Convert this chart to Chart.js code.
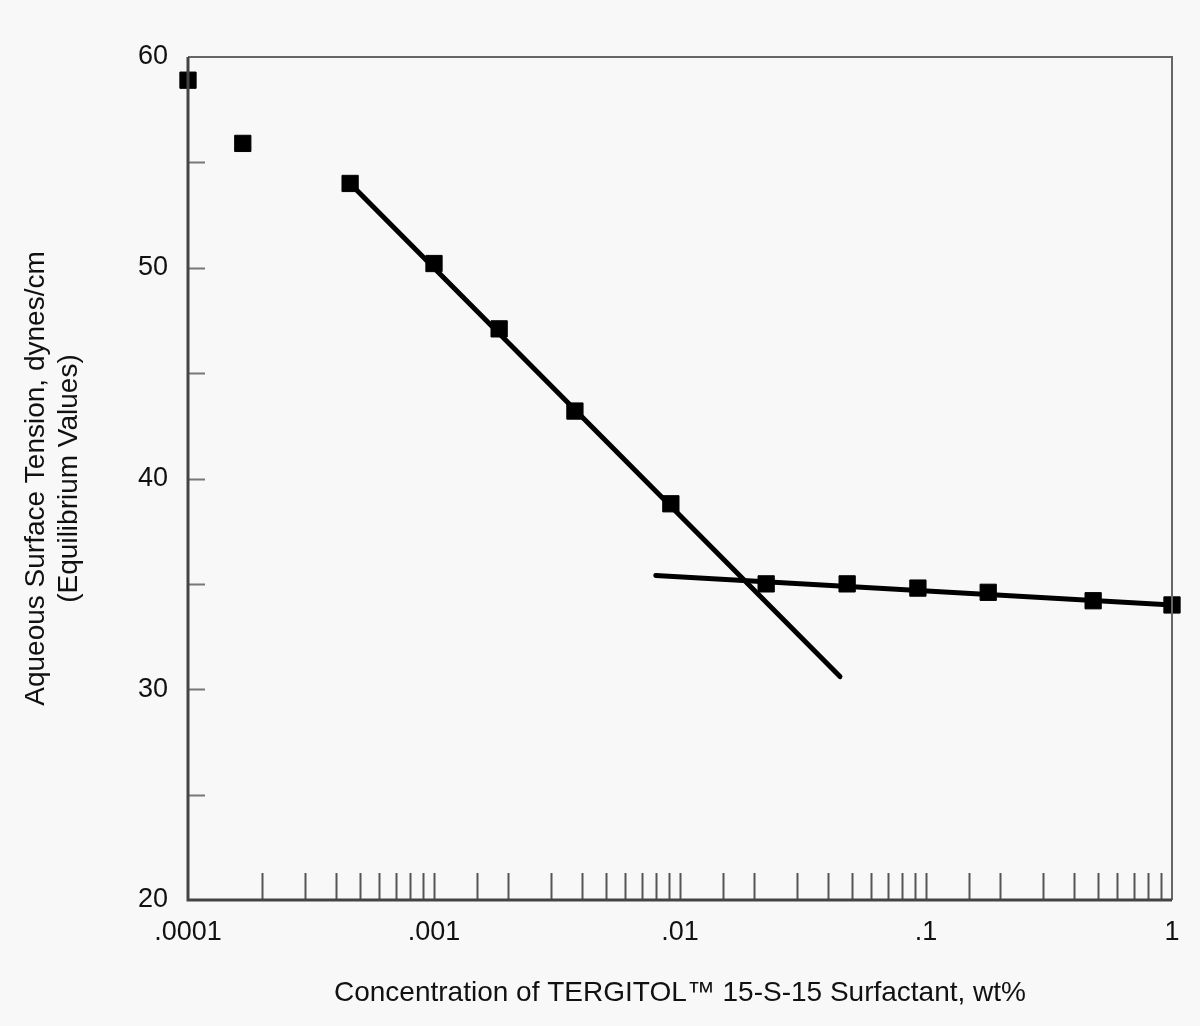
<!DOCTYPE html>
<html lang="en">
<head>
    <meta charset="UTF-8">
    <title>Surface Tension vs Concentration</title>
    <script src="https://cdn.jsdelivr.net/npm/chart.js"></script>
    <style>
        body {
            margin: 0;
            padding: 0;
            background-color: #f8f8f8;
        }

        .chart-box {
            width: 1200px;
            height: 1026px;
            position: relative;
        }
    </style>
</head>
<body>

    <div class="chart-box">
        <canvas id="tensionChart"></canvas>
    </div>

    <script>
        // measured points (concentration wt%, surface tension dynes/cm)
        var concentration = [0.0001, 0.000167, 0.000456, 0.001, 0.00184, 0.00374, 0.00918, 0.0224, 0.0478, 0.0927, 0.179, 0.478, 1];
        var tension = [58.9, 55.9, 54.0, 50.2, 47.1, 43.2, 38.8, 35.0, 35.0, 34.8, 34.6, 34.2, 34.0];

        // the two straight fit lines (end points)
        var steepX = [0.000456, 0.0447];
        var steepY = [54.0, 30.6];
        var flatX = [0.00797, 1];
        var flatY = [35.4, 34.0];

        // axis labels
        var xTickLabels = { '-4': '.0001', '-3': '.001', '-2': '.01', '-1': '.1', '0': '1' };
        var yTickLabels = [20, 30, 40, 50, 60];

        var xTitle = 'Concentration of TERGITOL\u2122 15-S-15 Surfactant, wt%';
        var yTitle = ['Aqueous Surface Tension, dynes/cm', '(Equilibrium Values)'];

        function toPoints(xs, ys) {
            return xs.map(function (x, i) { return { x: x, y: ys[i] }; });
        }

        var fontFamily = "'Liberation Sans', Arial, sans-serif";

        // inward tick marks + frame
        var framePlugin = {
            id: 'frame',
            afterDatasetsDraw: function (chart) {
                var ctx = chart.ctx;
                var area = chart.chartArea;
                var xs = chart.scales.x;
                var ys = chart.scales.y;
                ctx.save();

                // x minor / major ticks along the bottom, pointing up
                ctx.strokeStyle = '#555';
                ctx.lineWidth = 2;
                xs.ticks.forEach(function (t) {
                    if (t.value <= xs.min * 1.0001 || t.value >= xs.max * 0.9999) return;
                    var px = Math.round(xs.getPixelForValue(t.value)) + 0.5;
                    ctx.beginPath();
                    ctx.moveTo(px, area.bottom);
                    ctx.lineTo(px, area.bottom - 27);
                    ctx.stroke();
                });

                // y ticks along the left, pointing right
                ctx.strokeStyle = '#777';
                ys.ticks.forEach(function (t) {
                    if (t.value <= ys.min || t.value >= ys.max) return;
                    var py = Math.round(ys.getPixelForValue(t.value)) + 0.5;
                    ctx.beginPath();
                    ctx.moveTo(area.left, py);
                    ctx.lineTo(area.left + 17, py);
                    ctx.stroke();
                });

                // top and right border
                ctx.strokeStyle = '#666';
                ctx.lineWidth = 2;
                ctx.beginPath();
                ctx.moveTo(area.left, area.top);
                ctx.lineTo(area.right, area.top);
                ctx.lineTo(area.right, area.bottom);
                ctx.stroke();

                // left and bottom axis lines
                ctx.strokeStyle = '#444';
                ctx.lineWidth = 3;
                ctx.beginPath();
                ctx.moveTo(area.left, area.top);
                ctx.lineTo(area.left, area.bottom);
                ctx.lineTo(area.right, area.bottom);
                ctx.stroke();

                ctx.restore();
            }
        };

        var ctx = document.getElementById('tensionChart').getContext('2d');
        var tensionChart = new Chart(ctx, {
            type: 'scatter',
            data: {
                datasets: [
                    {
                        label: 'Fit 1',
                        data: toPoints(steepX, steepY),
                        showLine: true,
                        borderColor: '#000',
                        borderWidth: 5,
                        borderCapStyle: 'round',
                        pointRadius: 0,
                        order: 2
                    },
                    {
                        label: 'Fit 2',
                        data: toPoints(flatX, flatY),
                        showLine: true,
                        borderColor: '#000',
                        borderWidth: 5,
                        borderCapStyle: 'round',
                        pointRadius: 0,
                        order: 2
                    },
                    {
                        label: 'Measured',
                        data: toPoints(concentration, tension),
                        pointStyle: 'rect',
                        pointRadius: 11.5,
                        pointBorderWidth: 1,
                        backgroundColor: '#000',
                        borderColor: '#000',
                        clip: false,
                        order: 1
                    }
                ]
            },
            options: {
                responsive: true,
                maintainAspectRatio: false,
                animation: false,
                layout: {
                    padding: { top: 57, right: 28, left: 0, bottom: 0 }
                },
                plugins: {
                    legend: { display: false },
                    tooltip: { enabled: false }
                },
                scales: {
                    x: {
                        type: 'logarithmic',
                        min: 0.0001,
                        max: 1,
                        grid: { display: false, drawTicks: false },
                        border: { display: false },
                        ticks: {
                            autoSkip: false,
                            maxRotation: 0,
                            padding: 16,
                            color: '#111',
                            font: { family: fontFamily, size: 27 },
                            callback: function (value) {
                                var e = Math.log10(value);
                                var r = Math.round(e);
                                if (Math.abs(e - r) > 1e-6) return '';
                                return xTickLabels[String(r)] || '';
                            }
                        },
                        title: {
                            display: true,
                            text: xTitle,
                            color: '#111',
                            font: { family: fontFamily, size: 28 },
                            padding: { top: 0, bottom: 16 }
                        },
                        afterFit: function (scale) { scale.height = 126; }
                    },
                    y: {
                        min: 20,
                        max: 60,
                        grid: { display: false, drawTicks: false },
                        border: { display: false },
                        ticks: {
                            stepSize: 5,
                            padding: 20,
                            color: '#111',
                            font: { family: fontFamily, size: 27 },
                            callback: function (value) {
                                return yTickLabels.indexOf(value) >= 0 ? String(value) : '';
                            }
                        },
                        title: {
                            display: true,
                            text: yTitle,
                            color: '#111',
                            font: { family: fontFamily, size: 28 },
                            padding: { top: 19, bottom: 0 }
                        },
                        afterFit: function (scale) { scale.width = 188; }
                    }
                }
            },
            plugins: [framePlugin]
        });
    </script>
</body>
</html>
